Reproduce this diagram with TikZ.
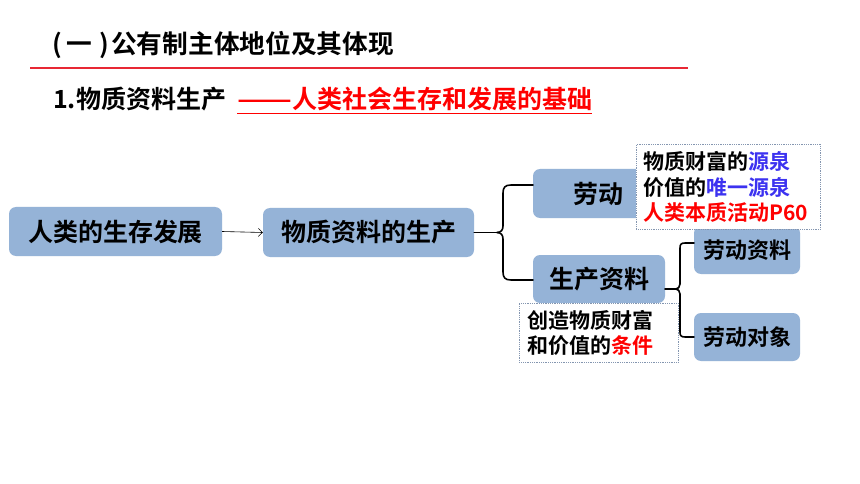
\documentclass[tikz,border=0pt]{standalone}
\usepackage{fontspec}
\usepackage{graphicx}
\setmainfont{Noto Sans CJK SC}[BoldFont={Noto Sans CJK SC Bold}]
\usetikzlibrary{arrows.meta}
\definecolor{boxblue}{RGB}{149,179,215}
\definecolor{titlered}{RGB}{232,40,52}
\definecolor{notegray}{RGB}{132,150,176}
\definecolor{noteblue}{RGB}{60,50,240}
\definecolor{notered}{RGB}{255,0,0}
\tikzset{
  box/.style={fill=boxblue, rounded corners=7pt, inner sep=0pt, font=\fontsize{25}{25}\selectfont\bfseries},
  smallbox/.style={box, font=\fontsize{22}{22}\selectfont\bfseries},
  note/.style={draw=notegray, densely dotted, line width=0.8pt, fill=white, inner ysep=0pt, align=left, anchor=north west, font=\fontsize{21}{25.5}\selectfont\bfseries},
  brace/.style={line width=1.6pt, line join=round, line cap=round},
  thinarrow/.style={line width=0.6pt, -{Straight Barb[length=4pt,width=8pt]}},
  titletext/.style={anchor=base west, inner sep=0pt, font=\fontsize{25.7}{25.7}\selectfont\bfseries},
  subtext/.style={anchor=base west, inner sep=0pt, font=\fontsize{25}{25}\selectfont\bfseries},
}
\begin{document}
\begin{tikzpicture}[x=1pt,y=-1pt]
\useasboundingbox (0,0) rectangle (860,484);
\fill[white] (0,0) rectangle (860,484);

% headings
\node[titletext] (tp1) at (52,54) {(};
\node[titletext, anchor=base] (tone) at (79,54) {一};
\node[titletext] (tp2) at (99,54) {)};
\node[titletext] (title) at (111,54) {公有制主体地位及其体现};
\coordinate (rl1) at (30,68);
\coordinate (rl2) at (688,68);
\draw[titlered, line width=1.5pt] (rl1) -- (rl2);
\node[subtext] (sub) at (53,109) {1.物质资料生产};
\node[subtext, text=notered] (red) at (237,109) {\scalebox{1.29}[1]{——}人类社会生存和发展的基础};
\draw[notered, line width=1.8pt] ([yshift=-4.5pt]red.base west) -- ([yshift=-4.5pt]red.base east);

% boxes
\node[box, minimum width=213pt, minimum height=49pt] (A) at (115.5,231.5) {人类的生存发展};
\node[box, minimum width=211pt, minimum height=49pt] (B) at (368.5,232.5) {物质资料的生产};
\node[box, minimum width=130pt, minimum height=49pt] (C) at (598,193.5) {劳动};
\node[box, minimum width=132pt, minimum height=48pt] (D) at (599,279) {生产资料};
\node[smallbox, minimum width=106pt, minimum height=48pt] (E) at (747,250) {劳动资料};
\node[smallbox, minimum width=106pt, minimum height=48pt] (F) at (747,337) {劳动对象};

% arrow
\draw[thinarrow] (A.east) -- (B.west);

% brace 1
\coordinate (t1) at (497,232.5);
\coordinate (c1) at (533,185);
\coordinate (d0) at (533,280);
\draw[brace] (B.east) -- (t1);
\draw[brace] (t1) .. controls (501,232.5) and (503,230) .. (503,226) -- (503,193)
  .. controls (503,187.5) and (505,185) .. (511,185) -- (c1);
\draw[brace] (t1) .. controls (501,232.5) and (503,235) .. (503,239) -- (503,272)
  .. controls (503,277.5) and (505,280) .. (511,280) -- (d0);

% brace 2
\coordinate (d1) at (665,289);
\coordinate (t2) at (676,289);
\coordinate (e1) at (694,243);
\coordinate (f1) at (694,337);
\draw[brace] (d1) -- (t2);
\draw[brace] (t2) .. controls (678,289) and (680,287) .. (680,284) -- (680,248)
  .. controls (680,244.5) and (681,243) .. (685,243) -- (e1);
\draw[brace] (t2) .. controls (678,289) and (680,291) .. (680,294) -- (680,332)
  .. controls (680,335.5) and (681,337) .. (685,337) -- (f1);

% notes
\node[note, minimum width=184pt, minimum height=85pt, text width=170pt, inner xsep=7pt] (N1) at (636,144)
  {物质财富的\textcolor{noteblue}{源泉}\\
   价值的\textcolor{noteblue}{唯一源泉}\\
   \textcolor{notered}{人类本质活动P60}};
\node[note, minimum width=159pt, minimum height=59pt, text width=143pt, inner xsep=8pt] (N2) at (519,303)
  {创造物质财富\\
   和价值的\textcolor{notered}{条件}};
\end{tikzpicture}
\end{document}
